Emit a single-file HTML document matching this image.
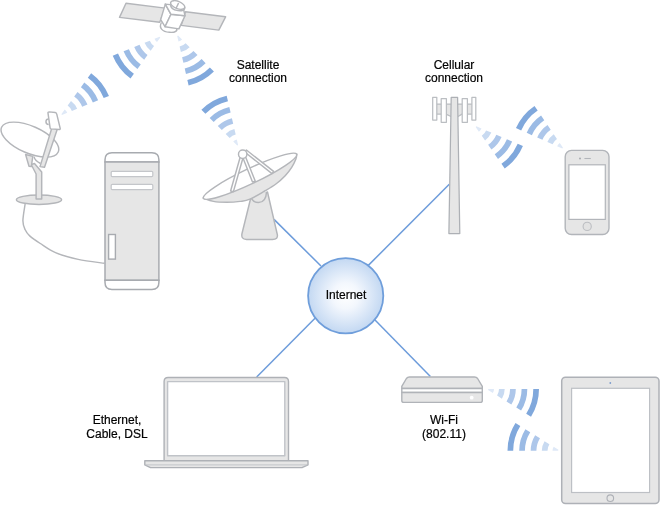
<!DOCTYPE html>
<html><head><meta charset="utf-8"><style>
html,body{margin:0;padding:0;background:#fff;}
body{width:660px;height:505px;position:relative;overflow:hidden;font-family:"Liberation Sans",sans-serif;}
svg{position:absolute;left:0;top:0;}
.t{position:absolute;font-size:12px;line-height:13.3px;text-align:center;color:#000;white-space:nowrap;will-change:transform;-webkit-text-stroke:0.2px #000;}
</style></head><body>
<svg width="660" height="505" viewBox="0 0 660 505">

<g stroke="#6d9cdb" stroke-width="1.5" fill="none">
  <line x1="274" y1="219.4" x2="321" y2="266"/>
  <line x1="449.3" y1="184.3" x2="368.3" y2="265.4"/>
  <line x1="256.7" y1="377" x2="315" y2="318.3"/>
  <line x1="430.4" y1="376.6" x2="373.3" y2="318.3"/>
</g>

<defs>
 <radialGradient id="rg" cx="0.5" cy="0.5" r="0.5">
  <stop offset="0" stop-color="#ffffff"/>
  <stop offset="0.35" stop-color="#f3f7fd"/>
  <stop offset="1" stop-color="#c3d8f2"/>
 </radialGradient>
</defs>
<circle cx="345.7" cy="295.8" r="37.6" fill="url(#rg)" stroke="#6f9edb" stroke-width="1.8"/>

<path d="M156.99,42.07 A7.5,7.5 0 0 1 154.45,38.81 L159.73,36.67 A1.8,1.8 0 0 0 160.34,37.46 Z" fill="#dfe9f7"/>
<path d="M150.7,50.72 A18.2,18.2 0 0 1 144.53,42.82 L149.81,40.68 A12.5,12.5 0 0 0 154.05,46.11 Z" fill="#c8daf1"/>
<path d="M144.18,59.7 A29.3,29.3 0 0 1 134.23,46.98 L139.52,44.84 A23.6,23.6 0 0 0 147.53,55.09 Z" fill="#aec7ea"/>
<path d="M137.42,69.01 A40.8,40.8 0 0 1 123.57,51.28 L128.86,49.15 A35.1,35.1 0 0 0 140.77,64.4 Z" fill="#9bbbe5"/>
<path d="M130.54,78.47 A52.5,52.5 0 0 1 112.72,55.67 L118.01,53.53 A46.8,46.8 0 0 0 133.89,73.86 Z" fill="#80a8dc"/>
<path d="M64.71,109.53 A7.5,7.5 0 0 1 67.25,112.79 L61.97,114.93 A1.8,1.8 0 0 0 61.36,114.14 Z" fill="#dfe9f7"/>
<path d="M71,100.88 A18.2,18.2 0 0 1 77.17,108.78 L71.89,110.92 A12.5,12.5 0 0 0 67.65,105.49 Z" fill="#c8daf1"/>
<path d="M77.52,91.9 A29.3,29.3 0 0 1 87.47,104.62 L82.18,106.76 A23.6,23.6 0 0 0 74.17,96.51 Z" fill="#aec7ea"/>
<path d="M84.28,82.59 A40.8,40.8 0 0 1 98.13,100.32 L92.84,102.45 A35.1,35.1 0 0 0 80.93,87.2 Z" fill="#9bbbe5"/>
<path d="M91.16,73.13 A52.5,52.5 0 0 1 108.98,95.93 L103.69,98.07 A46.8,46.8 0 0 0 87.81,77.74 Z" fill="#80a8dc"/>
<path d="M182.1,39.6 A7.5,7.5 0 0 1 178.49,41.61 L177.2,36.05 A1.8,1.8 0 0 0 178.07,35.57 Z" fill="#dfe9f7"/>
<path d="M189.67,47.17 A18.2,18.2 0 0 1 180.89,52.03 L179.61,46.48 A12.5,12.5 0 0 0 185.64,43.14 Z" fill="#c8daf1"/>
<path d="M197.52,55.02 A29.3,29.3 0 0 1 183.39,62.85 L182.11,57.3 A23.6,23.6 0 0 0 193.49,50.99 Z" fill="#aec7ea"/>
<path d="M205.65,63.15 A40.8,40.8 0 0 1 185.98,74.05 L184.7,68.5 A35.1,35.1 0 0 0 201.62,59.12 Z" fill="#9bbbe5"/>
<path d="M213.92,71.42 A52.5,52.5 0 0 1 188.61,85.45 L187.33,79.9 A46.8,46.8 0 0 0 209.89,67.39 Z" fill="#80a8dc"/>
<path d="M233.2,141.5 A7.5,7.5 0 0 1 236.81,139.49 L238.1,145.05 A1.8,1.8 0 0 0 237.23,145.53 Z" fill="#dfe9f7"/>
<path d="M225.63,133.93 A18.2,18.2 0 0 1 234.41,129.07 L235.69,134.62 A12.5,12.5 0 0 0 229.66,137.96 Z" fill="#c8daf1"/>
<path d="M217.78,126.08 A29.3,29.3 0 0 1 231.91,118.25 L233.19,123.8 A23.6,23.6 0 0 0 221.81,130.11 Z" fill="#aec7ea"/>
<path d="M209.65,117.95 A40.8,40.8 0 0 1 229.32,107.05 L230.6,112.6 A35.1,35.1 0 0 0 213.68,121.98 Z" fill="#9bbbe5"/>
<path d="M201.38,109.68 A52.5,52.5 0 0 1 226.69,95.65 L227.97,101.2 A46.8,46.8 0 0 0 205.41,113.71 Z" fill="#80a8dc"/>
<path d="M481.5,128.43 A7.5,7.5 0 0 1 478.9,131.64 L475.63,126.97 A1.8,1.8 0 0 0 476.26,126.2 Z" fill="#dfe9f7"/>
<path d="M491.35,132.61 A18.2,18.2 0 0 1 485.04,140.41 L481.77,135.74 A12.5,12.5 0 0 0 486.11,130.38 Z" fill="#c8daf1"/>
<path d="M501.57,136.95 A29.3,29.3 0 0 1 491.41,149.5 L488.14,144.83 A23.6,23.6 0 0 0 496.32,134.72 Z" fill="#aec7ea"/>
<path d="M512.16,141.44 A40.8,40.8 0 0 1 498,158.92 L494.73,154.25 A35.1,35.1 0 0 0 506.91,139.21 Z" fill="#9bbbe5"/>
<path d="M522.93,146.01 A52.5,52.5 0 0 1 504.71,168.51 L501.44,163.84 A46.8,46.8 0 0 0 517.68,143.79 Z" fill="#80a8dc"/>
<path d="M557.14,146.27 A7.5,7.5 0 0 1 559.78,143.1 L562.99,147.81 A1.8,1.8 0 0 0 562.35,148.57 Z" fill="#dfe9f7"/>
<path d="M547.35,141.96 A18.2,18.2 0 0 1 553.77,134.25 L556.97,138.96 A12.5,12.5 0 0 0 552.56,144.26 Z" fill="#c8daf1"/>
<path d="M537.19,137.48 A29.3,29.3 0 0 1 547.53,125.07 L550.73,129.78 A23.6,23.6 0 0 0 542.41,139.78 Z" fill="#aec7ea"/>
<path d="M526.67,132.84 A40.8,40.8 0 0 1 541.07,115.56 L544.27,120.27 A35.1,35.1 0 0 0 531.88,135.14 Z" fill="#9bbbe5"/>
<path d="M515.96,128.11 A52.5,52.5 0 0 1 534.49,105.88 L537.69,110.59 A46.8,46.8 0 0 0 521.18,130.41 Z" fill="#80a8dc"/>
<path d="M494,389 A7.5,7.5 0 0 1 492.86,392.97 L488.03,389.95 A1.8,1.8 0 0 0 488.3,389 Z" fill="#dfe9f7"/>
<path d="M504.7,389 A18.2,18.2 0 0 1 501.93,398.64 L497.1,395.62 A12.5,12.5 0 0 0 499,389 Z" fill="#c8daf1"/>
<path d="M515.8,389 A29.3,29.3 0 0 1 511.35,404.53 L506.51,401.51 A23.6,23.6 0 0 0 510.1,389 Z" fill="#aec7ea"/>
<path d="M527.3,389 A40.8,40.8 0 0 1 521.1,410.62 L516.27,407.6 A35.1,35.1 0 0 0 521.6,389 Z" fill="#9bbbe5"/>
<path d="M539,389 A52.5,52.5 0 0 1 531.02,416.82 L526.19,413.8 A46.8,46.8 0 0 0 533.3,389 Z" fill="#80a8dc"/>
<path d="M552.5,450.8 A7.5,7.5 0 0 1 553.64,446.83 L558.47,449.85 A1.8,1.8 0 0 0 558.2,450.8 Z" fill="#dfe9f7"/>
<path d="M541.8,450.8 A18.2,18.2 0 0 1 544.57,441.16 L549.4,444.18 A12.5,12.5 0 0 0 547.5,450.8 Z" fill="#c8daf1"/>
<path d="M530.7,450.8 A29.3,29.3 0 0 1 535.15,435.27 L539.99,438.29 A23.6,23.6 0 0 0 536.4,450.8 Z" fill="#aec7ea"/>
<path d="M519.2,450.8 A40.8,40.8 0 0 1 525.4,429.18 L530.23,432.2 A35.1,35.1 0 0 0 524.9,450.8 Z" fill="#9bbbe5"/>
<path d="M507.5,450.8 A52.5,52.5 0 0 1 515.48,422.98 L520.31,426 A46.8,46.8 0 0 0 513.2,450.8 Z" fill="#80a8dc"/>

<g stroke="#b4b6ba" stroke-width="1.45" stroke-linejoin="round">
  <polygon points="126,3.2 165.2,8.1 159.7,22.3 119.5,17.4" fill="#e6e6e6"/>
  <polygon points="185.5,11.7 225.6,16.8 218.8,30.1 181.2,25.4" fill="#e6e6e6"/>
  <path d="M161.5,22.5 C158.5,27.5 162,31.8 169.5,32.3 C175.5,32.8 177.8,30.5 176.5,28.3" fill="#fff"/>
  <polygon points="165.3,4.1 171,14.3 165,26.7 160.7,19.6" fill="#fff"/>
  <polygon points="171,14.3 185,15.7 178.9,28.9 165,26.7" fill="#fff"/>
  <polygon points="165.3,4.1 182.8,6 185,15.7 171,14.3" fill="#fff"/>
  <path d="M170.6,4.2 C170.4,8 174,10 178,10.6 C182,11.2 184.8,10 185,7.5" fill="#fff"/>
  <ellipse cx="177.7" cy="5" rx="7.5" ry="3.6" transform="rotate(22 177.7 5)" fill="#fff"/>
  <path d="M176.2,8 L178.6,3" fill="none"/>
</g>

<g stroke="#b4b6ba" stroke-width="1.45" stroke-linejoin="round">
  <path d="M25.2,203.5 C24.82,206.38 22.9,216.42 22.9,220.8 C22.9,225.18 24.07,227.28 25.2,229.8 C26.33,232.32 27.18,233.62 29.7,235.9 C32.22,238.18 36,240.72 40.3,243.5 C44.6,246.28 49.18,249.95 55.5,252.6 C61.82,255.25 70.03,257.62 78.2,259.4 C86.37,261.18 100.12,262.65 104.5,263.3" fill="none"/>
  <ellipse cx="39" cy="199.7" rx="22.6" ry="4.7" fill="#e6e6e6"/>
  <path d="M36.1,199 L36.1,174 L31.2,164.5 L34.5,163.5 L41.7,172 L41.7,199 Z" fill="#e6e6e6"/>
  <ellipse cx="29.9" cy="139.6" rx="30.9" ry="13.5" transform="rotate(23.5 29.9 139.6)" fill="#fff"/>
  <polygon points="25.6,154.5 32.8,156.4 31.3,166.6 29,166.2" fill="#e6e6e6"/>
  <path d="M34,156.7 Q35,161 40.5,163.5" fill="none"/>
  <polygon points="52,127.5 57.5,128.5 44.5,167.3 40,166.6" fill="#e6e6e6"/>
  <g transform="translate(-0.3,0.9)"><path d="M49,118 A2.6,2.6 0 0 0 49,123.5" fill="#fff"/>
  <path d="M48.3,112.2 Q48,111 49.5,111 L55.5,111.6 Q56.8,111.8 57,113 L60.5,127.5 Q60.7,128.6 59.5,128.6 L51.5,128 Q50.5,127.9 50.4,127 Z" fill="#fff"/></g>
</g>

<g stroke="#a8abb0" stroke-width="1.5">
  <path d="M105,162 L105,159.8 Q105,152.8 112,152.8 L151.9,152.8 Q158.9,152.8 158.9,159.8 L158.9,162 Z" fill="#fff"/>
  <rect x="105" y="162" width="53.9" height="118.35" fill="#e6e6e6"/>
  <path d="M105,280.35 L105,282.6 Q105,289.6 112,289.6 L151.9,289.6 Q158.9,289.6 158.9,282.6 L158.9,280.35 Z" fill="#fff"/>
</g>
<g stroke="#c4c6ca" stroke-width="1.2" fill="#fff">
  <rect x="111.2" y="171.4" width="41.6" height="5.2" rx="1"/>
  <rect x="111.2" y="184.4" width="41.6" height="5.2" rx="1"/>
</g>
<rect x="108.6" y="234.5" width="6.8" height="24.6" fill="#fff" stroke="#a8abb0" stroke-width="1.4"/>


<g stroke="#b4b6ba" stroke-width="1.45" stroke-linejoin="round">
  <path d="M250.5,199 L242,233.5 Q240.8,239.4 246.5,239.4 L272.5,239.4 Q278.3,239.4 277.3,234.5 L267.5,192 Z" fill="#e6e6e6"/>
  <path d="M250.8,194 Q251,202.5 258.5,202.5 Q266,202.5 266.5,192" fill="#e6e6e6"/>
  <path d="M203.3,198 C204.98,198.57 209.5,200.68 213.4,201.4 C217.3,202.12 222.25,202.3 226.7,202.3 C231.15,202.3 236.23,201.92 240.1,201.4 C243.97,200.88 245.8,200.93 249.9,199.2 C254,197.47 260.37,193.53 264.7,191 C269.03,188.47 272.48,186.55 275.9,184 C279.32,181.45 282.57,178.48 285.2,175.7 C287.83,172.92 289.92,170.08 291.7,167.3 C293.48,164.52 295.05,161.22 295.9,159 C296.75,156.78 296.65,154.83 296.8,154 Z" fill="#e6e6e6"/>
  <ellipse cx="250" cy="176.3" rx="51.6" ry="7.6" transform="rotate(-25.3 250 176.3)" fill="#fff"/>
  <g fill="#fff">
   <polygon points="240.5,156 243.3,156.8 233.4,191.6 230.6,191"/>
   <polygon points="242.6,157 245.3,156.2 255.3,181.3 252.5,182"/>
   <polygon points="245,152.3 246.4,150 273.6,171.4 272,173.6"/>
  </g>
  <circle cx="242.7" cy="154.2" r="4.2" fill="#fff"/>
</g>

<g stroke="#bbbec2" stroke-width="1.25" stroke-linejoin="round">
  <path d="M434,104.1 L474.5,104.1 L474.5,114.1 L462,114.1 L458,116.5 L451,116.5 L446,114.1 L434,114.1 Z" fill="#e6e6e6"/>
  <rect x="432.7" y="97.3" width="4.1" height="22.7" fill="#fff"/>
  <rect x="441.2" y="98.7" width="5.2" height="23.6" fill="#fff"/>
  <rect x="462.2" y="98.7" width="5.2" height="23.6" fill="#fff"/>
  <rect x="471.9" y="97.3" width="3.9" height="22.7" fill="#fff"/>
  <path d="M451.2,97.3 L457.6,97.3 L459.8,233.5 L448.9,233.5 Z" fill="#e6e6e6" stroke="#adb0b5"/>
</g>

<g stroke="#b2b5ba" stroke-width="1.4">
  <rect x="565.2" y="150.4" width="43.8" height="84.1" rx="6.3" fill="#e6e6e6"/>
  <rect x="568.9" y="164.8" width="36.4" height="54.6" fill="#fff" stroke-width="1.2"/>
  <circle cx="587.2" cy="226.4" r="4.1" fill="#e2e2e2" stroke-width="1.1" stroke="#bcbec2"/>
  <line x1="584.4" y1="158.5" x2="590.8" y2="158.5" stroke-width="1.1"/>
</g>
<circle cx="580" cy="158.5" r="1" fill="#a8abb0"/>


<g stroke="#aeb1b6" stroke-width="1.4" stroke-linejoin="round">
  <path d="M164.1,460.7 L164.1,381.5 Q164.1,377.5 168.1,377.5 L284.5,377.5 Q288.5,377.5 288.5,381.5 L288.5,460.7 Z" fill="#e6e6e6"/>
  <rect x="167.6" y="381.6" width="117.2" height="74.1" fill="#fff" stroke="#c0c3c8"/>
  <path d="M144.8,460.7 L308,460.7 L308,464.8 L302,467.6 L150.5,467.6 L144.8,464.8 Z" fill="#e6e6e6"/>
  <line x1="145.5" y1="464.9" x2="307.3" y2="464.9" stroke="#c2c5c9" stroke-width="1"/>
</g>

<g stroke="#b0b3b8" stroke-width="1.4" stroke-linejoin="round">
  <path d="M401.8,388.5 L401.8,386.3 L406.4,378.5 Q407.5,377 409.5,377 L474.5,377 Q476.5,377 477.6,378.5 L482.3,386.3 L482.3,388.5 Z" fill="#e6e6e6"/>
  <rect x="401.8" y="388.5" width="80.5" height="4" fill="#fff"/>
  <path d="M401.8,392.5 L482.3,392.5 L482.3,400.4 Q482.3,402.4 480.3,402.4 L403.8,402.4 Q401.8,402.4 401.8,400.4 Z" fill="#e6e6e6"/>
</g>
<circle cx="471.7" cy="397.7" r="1.9" fill="#fff"/>


<g stroke="#aeb1b7" stroke-width="1.5">
  <rect x="561.7" y="377.2" width="97.3" height="126.4" rx="3.8" fill="#e6e6e6"/>
  <rect x="571.6" y="388.3" width="78" height="104.2" fill="#fff" stroke="#bdc0c5" stroke-width="1.2"/>
  <circle cx="610.3" cy="498.2" r="3.3" fill="#e6e6e6" stroke-width="1.1"/>
</g>
<circle cx="610.3" cy="383" r="0.9" fill="#7d9ccc"/>

</svg>

<div class="t" style="left:207.75px;top:58.6px;width:100px">Satellite<br>connection</div>
<div class="t" style="left:404.3px;top:58.6px;width:100px">Cellular<br>connection</div>
<div class="t" style="left:296.4px;top:288.7px;width:100px">Internet</div>
<div class="t" style="left:67.2px;top:414.2px;width:100px;line-height:13.6px">Ethernet,<br>Cable, DSL</div>
<div class="t" style="left:393.75px;top:414.0px;width:100px;line-height:13.6px">Wi-Fi<br>(802.11)</div>

</body></html>
